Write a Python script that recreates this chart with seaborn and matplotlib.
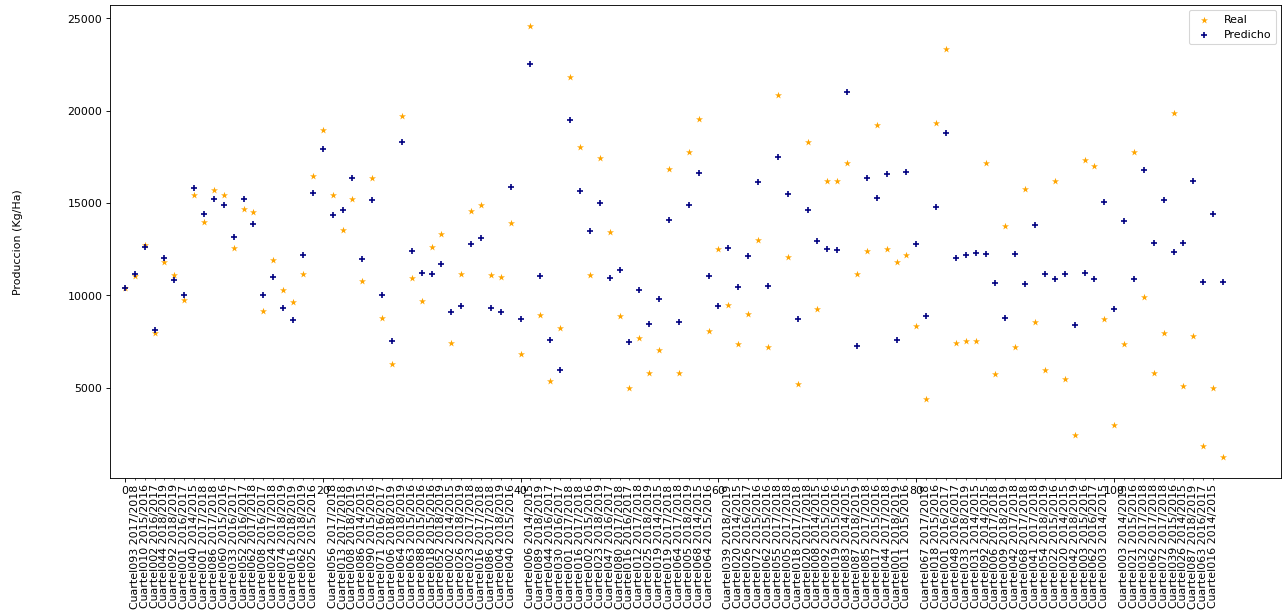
import matplotlib
matplotlib.use("Agg")
import matplotlib.pyplot as plt
import seaborn as sns
import numpy as np
import pandas as pd

# ---- data ----
real = [10380, 11070, 12720, 7970, 11810, 11110, 9750, 15410, 13980, 15700,
        15410, 12570, 14670, 14500, 9170, 11920, 10300, 9650, 11180, 16490,
        18980, 15410, 13550, 15210, 10800, 16380, 8780, 6290, 19690, 10960,
        9720, 12640, 13310, 7440, 11180, 14560, 14900, 11110, 11000, 13940,
        6810, 24570, 8940, 5380, 8240, 21820, 18030, 11110, 17430, 13420,
        8870, 4960, 7690, 5800, 7040, 16820, 5800, 17790, 19560, 8050,
        12500, 9480, 7370, 9000, 13000, 7220, 20860, 12080, 5180, 18280,
        9240, 16200, 16200, 17160, 11180, 12390, 19220, 12500, 11810, 12190,
        8320, 4370, 19360, 23370, 7400, 7510, 7530, 17160, 5760, 13760,
        7210, 15750, 8580, 5940, 16180, 5490, 2450, 17340, 17030, 8740,
        3000, 7350, 17780, 9900, 5780, 7980, 19870, 5090, 7820, 1840,
        5000, 1240]

predicho = [10380, 11160, 12630, 8140, 12010, 10850, 10040, 15840, 14410, 15210,
            14880, 13150, 15230, 13870, 10040, 11000, 9320, 8670, 12210, 15530,
            17920, 14360, 14650, 16360, 11960, 15190, 10020, 7530, 18330, 12390,
            11200, 11130, 11710, 9100, 9430, 12790, 13110, 9300, 9080, 15880,
            8740, 22510, 11030, 7600, 5940, 19510, 15660, 13490, 14990, 10950,
            11380, 7490, 10280, 8430, 9790, 14070, 8560, 14880, 16640, 11030,
            9410, 12590, 10470, 12150, 16130, 10510, 17500, 15480, 8720, 14650,
            12930, 12520, 12440, 21020, 7280, 16330, 15280, 16600, 7600, 16670,
            12790, 8870, 14790, 18770, 12050, 12190, 12320, 12250, 10690, 8790,
            12260, 10640, 13820, 11180, 10910, 11180, 8420, 11230, 10910, 15030,
            9280, 14050, 10910, 16800, 12820, 15140, 12370, 12820, 16220, 10750,
            14430, 10750]

cuartel_labels = [
    "Cuartel093 2017/2018", "Cuartel010 2015/2016", "Cuartel002 2016/2017", "Cuartel044 2018/2019",
    "Cuartel092 2018/2019", "Cuartel001 2016/2017", "Cuartel040 2014/2015", "Cuartel001 2017/2018",
    "Cuartel086 2017/2018", "Cuartel060 2015/2016", "Cuartel033 2016/2017", "Cuartel052 2016/2017",
    "Cuartel062 2017/2018", "Cuartel008 2016/2017", "Cuartel024 2017/2018", "Cuartel074 2018/2019",
    "Cuartel016 2018/2019", "Cuartel062 2018/2019", "Cuartel025 2015/2016",
    "Cuartel056 2017/2018", "Cuartel013 2017/2018", "Cuartel008 2018/2019", "Cuartel086 2014/2015",
    "Cuartel090 2015/2016", "Cuartel071 2016/2017", "Cuartel006 2018/2019", "Cuartel064 2018/2019",
    "Cuartel063 2015/2016", "Cuartel088 2015/2016", "Cuartel018 2015/2016", "Cuartel052 2018/2019",
    "Cuartel002 2014/2015", "Cuartel026 2018/2019", "Cuartel023 2017/2018", "Cuartel016 2017/2018",
    "Cuartel086 2017/2018", "Cuartel004 2018/2019", "Cuartel040 2015/2016",
    "Cuartel006 2014/2015", "Cuartel089 2018/2019", "Cuartel044 2016/2017", "Cuartel030 2016/2017",
    "Cuartel001 2017/2018", "Cuartel016 2017/2018", "Cuartel002 2015/2016", "Cuartel023 2018/2019",
    "Cuartel047 2016/2017", "Cuartel080 2017/2018", "Cuartel016 2016/2017", "Cuartel012 2017/2018",
    "Cuartel025 2018/2019", "Cuartel019 2014/2015", "Cuartel019 2017/2018", "Cuartel064 2017/2018",
    "Cuartel005 2018/2019", "Cuartel068 2014/2015", "Cuartel064 2015/2016",
    "Cuartel039 2018/2019", "Cuartel020 2014/2015", "Cuartel026 2016/2017", "Cuartel072 2015/2016",
    "Cuartel062 2015/2016", "Cuartel055 2017/2018", "Cuartel005 2017/2018", "Cuartel018 2017/2018",
    "Cuartel020 2017/2018", "Cuartel008 2014/2015", "Cuartel092 2015/2016", "Cuartel019 2015/2016",
    "Cuartel083 2014/2015", "Cuartel087 2018/2019", "Cuartel085 2017/2018", "Cuartel017 2015/2016",
    "Cuartel044 2017/2018", "Cuartel001 2018/2019", "Cuartel011 2015/2016",
    "Cuartel067 2017/2018", "Cuartel018 2015/2016", "Cuartel001 2016/2017", "Cuartel048 2016/2017",
    "Cuartel033 2018/2019", "Cuartel031 2014/2015", "Cuartel092 2014/2015", "Cuartel006 2017/2018",
    "Cuartel009 2018/2019", "Cuartel042 2017/2018", "Cuartel068 2017/2018", "Cuartel041 2017/2018",
    "Cuartel054 2018/2019", "Cuartel022 2015/2016", "Cuartel020 2014/2015", "Cuartel042 2018/2019",
    "Cuartel003 2015/2016", "Cuartel062 2016/2017", "Cuartel003 2014/2015",
    "Cuartel003 2014/2015", "Cuartel021 2015/2016", "Cuartel032 2017/2018", "Cuartel062 2017/2018",
    "Cuartel072 2017/2018", "Cuartel039 2015/2016", "Cuartel026 2014/2015", "Cuartel087 2018/2019",
    "Cuartel063 2016/2017", "Cuartel016 2014/2015",
]

major_ticks = [0, 20, 40, 60, 80, 100]

# ---- figure ----
DPI = 79.2
fig = plt.figure(figsize=(1283.4 / DPI, 612.4 / DPI), dpi=DPI)
ax = fig.add_axes([110 / 1283, 1 - 478 / 612, (1281 - 110) / 1283, (478 - 5) / 612])

idx = np.arange(len(real))
df = pd.DataFrame({"idx": idx, "Real": real, "Predicho": predicho})

sns.scatterplot(data=df, x="idx", y="Real", marker="*", color="orange",
                s=45, linewidth=0, label="Real", ax=ax)
sns.scatterplot(data=df, x="idx", y="Predicho", marker="+", color="navy",
                s=36, linewidth=1.5, label="Predicho", ax=ax)

ax.set_xlim(-1.5, 116.9)
ax.set_ylim(110, 25750)
ax.set_xlabel("")
ax.set_ylabel("Produccion (Kg/Ha)", labelpad=40)

ax.set_xticks(major_ticks)
minor_pos = [i for i in range(len(cuartel_labels) + len(major_ticks)) if i not in major_ticks]
ax.set_xticks(minor_pos, minor=True)
ax.set_xticklabels(cuartel_labels, minor=True, rotation=90)

ax.legend(loc="upper right")

fig.savefig("out.png", dpi=DPI)
